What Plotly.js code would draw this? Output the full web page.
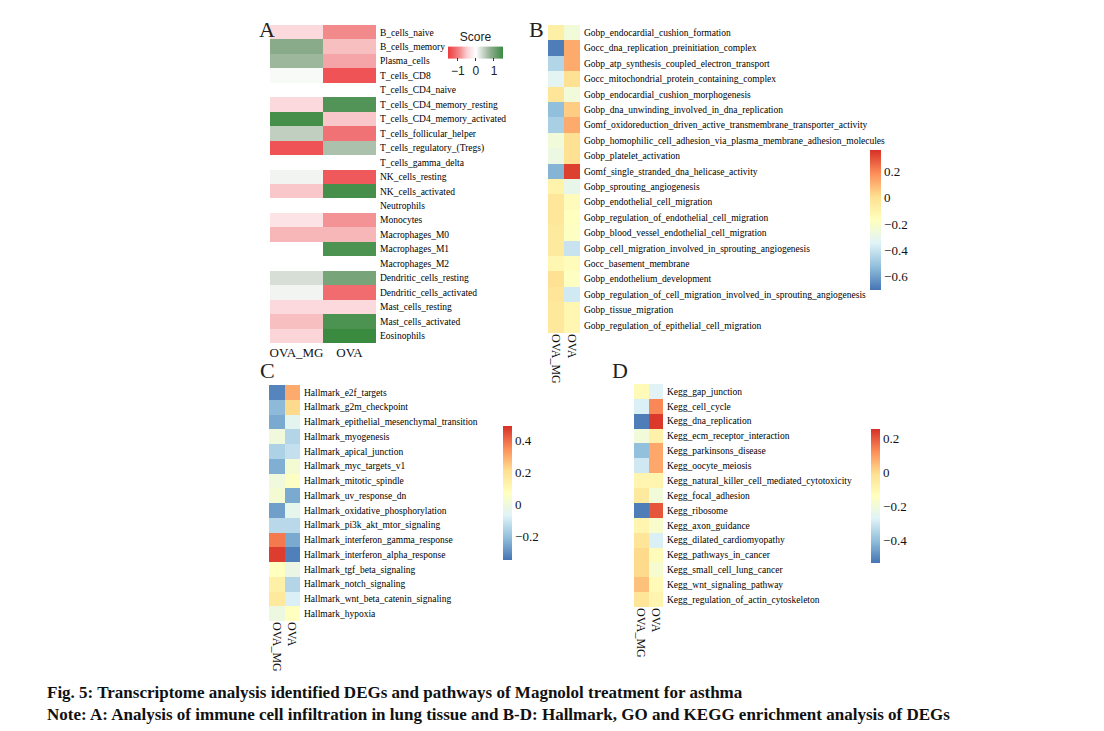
<!DOCTYPE html>
<html>
<head>
<meta charset="utf-8">
<script src="https://cdn.plot.ly/plotly-3.0.1.min.js"></script>
<style>html,body{margin:0;padding:0;background:#fff;}#chart{width:1104px;height:731px;}</style>
</head>
<body>
<div id="chart"></div>
<script>
// ---------- data ----------
const groups = ["OVA_MG", "OVA"];

const immuneCells = ["B_cells_naive","B_cells_memory","Plasma_cells","T_cells_CD8","T_cells_CD4_naive",
  "T_cells_CD4_memory_resting","T_cells_CD4_memory_activated","T_cells_follicular_helper",
  "T_cells_regulatory_(Tregs)","T_cells_gamma_delta","NK_cells_resting","NK_cells_activated",
  "Neutrophils","Monocytes","Macrophages_M0","Macrophages_M1","Macrophages_M2",
  "Dendritic_cells_resting","Dendritic_cells_activated","Mast_cells_resting","Mast_cells_activated","Eosinophils"];
const immuneMG  = [-0.4, 0.85, 0.7, 0.05, null, -0.4, 1.4, 0.45, -1.35, null, 0.1, -0.55, null, -0.3, -0.65, null, null, 0.3, 0.1, -0.4, -0.6, -0.45];
const immuneOVA = [-0.9, -0.6, -0.75, -1.35, null, 1.3, -0.55, -1.1, 0.6, null, -1.3, 1.4, null, -0.85, -0.65, 1.35, null, 1.0, -1.15, -0.4, 1.35, 1.5];

const goTerms = ["Gobp_endocardial_cushion_formation","Gocc_dna_replication_preinitiation_complex",
  "Gobp_atp_synthesis_coupled_electron_transport","Gocc_mitochondrial_protein_containing_complex",
  "Gobp_endocardial_cushion_morphogenesis","Gobp_dna_unwinding_involved_in_dna_replication",
  "Gomf_oxidoreduction_driven_active_transmembrane_transporter_activity",
  "Gobp_homophilic_cell_adhesion_via_plasma_membrane_adhesion_molecules","Gobp_platelet_activation",
  "Gomf_single_stranded_dna_helicase_activity","Gobp_sprouting_angiogenesis","Gobp_endothelial_cell_migration",
  "Gobp_regulation_of_endothelial_cell_migration","Gobp_blood_vessel_endothelial_cell_migration",
  "Gobp_cell_migration_involved_in_sprouting_angiogenesis","Gocc_basement_membrane","Gobp_endothelium_development",
  "Gobp_regulation_of_cell_migration_involved_in_sprouting_angiogenesis","Gobp_tissue_migration",
  "Gobp_regulation_of_epithelial_cell_migration"];
const goMG  = [-0.08, -0.68, -0.45, -0.33, -0.02, -0.52, -0.47, -0.25, -0.28, -0.55, -0.1, -0.03, -0.03, -0.05, -0.05, -0.12, 0.0, -0.02, -0.04, -0.04];
const goOVA = [-0.25, 0.12, 0.12, 0.0, -0.25, 0.05, 0.12, 0.0, 0.0, 0.33, -0.3, -0.15, -0.17, -0.18, -0.4, -0.15, -0.18, -0.38, -0.12, -0.12];

const hallmarks = ["Hallmark_e2f_targets","Hallmark_g2m_checkpoint","Hallmark_epithelial_mesenchymal_transition",
  "Hallmark_myogenesis","Hallmark_apical_junction","Hallmark_myc_targets_v1","Hallmark_mitotic_spindle",
  "Hallmark_uv_response_dn","Hallmark_oxidative_phosphorylation","Hallmark_pi3k_akt_mtor_signaling",
  "Hallmark_interferon_gamma_response","Hallmark_interferon_alpha_response","Hallmark_tgf_beta_signaling",
  "Hallmark_notch_signaling","Hallmark_wnt_beta_catenin_signaling","Hallmark_hypoxia"];
const hallMG  = [-0.32, -0.22, -0.25, 0.0, -0.16, -0.24, 0.0, 0.02, -0.27, -0.14, 0.38, 0.47, 0.07, 0.14, 0.17, -0.01];
const hallOVA = [0.3, 0.22, -0.05, -0.15, -0.12, 0.02, 0.06, -0.25, -0.04, -0.14, -0.25, -0.33, -0.02, -0.15, -0.08, 0.07];

const keggTerms = ["Kegg_gap_junction","Kegg_cell_cycle","Kegg_dna_replication","Kegg_ecm_receptor_interaction",
  "Kegg_parkinsons_disease","Kegg_oocyte_meiosis","Kegg_natural_killer_cell_mediated_cytotoxicity",
  "Kegg_focal_adhesion","Kegg_ribosome","Kegg_axon_guidance","Kegg_dilated_cardiomyopathy",
  "Kegg_pathways_in_cancer","Kegg_small_cell_lung_cancer","Kegg_wnt_signaling_pathway",
  "Kegg_regulation_of_actin_cytoskeleton"];
const keggMG  = [-0.12, -0.28, -0.52, -0.2, -0.4, -0.3, -0.1, -0.05, -0.52, -0.1, -0.03, 0.0, 0.0, 0.04, -0.03];
const keggOVA = [-0.27, 0.13, 0.24, -0.08, 0.08, 0.08, -0.1, -0.2, 0.2, -0.17, -0.28, -0.13, -0.18, -0.12, -0.1];

// ---------- styling ----------
const W = 1104, H = 731;
const fx = p => p / W;
const fy = p => 1 - p / H;
const serif = "Liberation Serif, Times New Roman, serif";
const sans = "Liberation Sans, Arial, sans-serif";

const rdylbu = ["#4575B4","#91BFDB","#E0F3F8","#FFFFBF","#FEE090","#FC8D59","#D73027"].map((c,i)=>[i/6,c]);
const scoreScale = [[0,"#ee3b3d"],[0.213,"#f28a8c"],[0.344,"#fad0d3"],[0.508,"#ffffff"],[0.623,"#cfd9cf"],[0.770,"#8fae8f"],[1,"#3a8a40"]];

function zOf(a, b){ return a.map((v,i)=>[v, b[i]]); }

function hm(idx, rows, a, b, zmin, zmax, scale, cb){
  return {
    type: "heatmap", x: groups, y: rows, z: zOf(a,b),
    xaxis: "x" + (idx===1?"":idx), yaxis: "y" + (idx===1?"":idx),
    zmin: zmin, zmax: zmax, colorscale: scale, hoverongaps: false,
    colorbar: cb, showscale: true
  };
}

const vcb = (left, top, bottom, thick) => ({
  x: fx(left), xanchor: "left", y: fy((top+bottom)/2), yanchor: "middle",
  len: bottom - top, lenmode: "pixels", thickness: thick, outlinewidth: 0,
  xpad: 0, ypad: 0,
  tickvals: [-0.6,-0.4,-0.2,0,0.2,0.4], ticktext: ["−0.6","−0.4","−0.2","0","0.2","0.4"],
  ticks: "", tickangle: 0, tickfont: {family: serif, size: 13, color: "#111"}, ticklabelpad: 3
});

const traces = [
  hm(1, immuneCells, immuneMG, immuneOVA, -1.55, 1.5, scoreScale, {
    orientation: "h", x: fx(475.5), xanchor: "center", y: fy(79), yanchor: "bottom",
    len: 55, lenmode: "pixels", thickness: 12, outlinewidth: 0, xpad: 0, ypad: 0,
    tickvals: [-1,0,1], ticktext: ["−1","0","1"], ticks: "outside", ticklen: 3, tickcolor: "#333",
    tickangle: 0,
    tickfont: {family: sans, size: 12, color: "#222"},
    title: {text: "Score", side: "top", font: {family: sans, size: 12, color: "#222"}}
  }),
  hm(2, goTerms, goMG, goOVA, -0.70, 0.36, rdylbu, vcb(870, 150, 290, 11)),
  hm(3, hallmarks, hallMG, hallOVA, -0.35, 0.49, rdylbu, vcb(503, 426, 560, 9)),
  hm(4, keggTerms, keggMG, keggOVA, -0.535, 0.253, rdylbu, vcb(871, 429, 563, 9))
];

function xax(l, r, anchor, angle, size){
  return {domain: [fx(l), fx(r)], anchor: anchor, showgrid: false, zeroline: false, showline: false,
    ticks: "", tickangle: angle, tickfont: {family: serif, size: size, color: "#111"}, fixedrange: true};
}
function yax(t, b, anchor){
  return {domain: [fy(b), fy(t)], anchor: anchor, side: "right", autorange: "reversed",
    showgrid: false, zeroline: false, showline: false, ticks: "", ticklabelstandoff: 3,
    tickfont: {family: serif, size: 9.5, color: "#000"}, fixedrange: true};
}

const layout = {
  width: W, height: H, margin: {l:0, r:0, t:0, b:0, autoexpand: false},
  paper_bgcolor: "#fff", plot_bgcolor: "#fff", showlegend: false,
  xaxis: xax(270, 376, "y", 0, 13),
  yaxis: yax(25, 343, "x"),
  xaxis2: xax(548, 580, "y2", 90, 12),
  yaxis2: yax(25, 333, "x2"),
  xaxis3: xax(269, 300, "y3", 90, 12),
  yaxis3: yax(385, 621, "x3"),
  xaxis4: xax(634, 663, "y4", 90, 12),
  yaxis4: yax(384, 607, "x4"),
  annotations: [
    {text: "A", x: fx(257), y: fy(15), xref: "paper", yref: "paper", showarrow: false, font: {family: serif, size: 22, color: "#222"}},
    {text: "B", x: fx(536), y: fy(15), xref: "paper", yref: "paper", showarrow: false, font: {family: serif, size: 22, color: "#222"}},
    {text: "C", x: fx(258), y: fy(370), xref: "paper", yref: "paper", showarrow: false, font: {family: serif, size: 22, color: "#222"}},
    {text: "D", x: fx(620), y: fy(370), xref: "paper", yref: "paper", showarrow: false, font: {family: serif, size: 22, color: "#222"}},
    {text: "<b>Fig. 5: Transcriptome analysis identified DEGs and pathways of Magnolol treatment for asthma</b>",
      x: fx(45), y: fy(692), xanchor: "left", yanchor: "middle", xref: "paper", yref: "paper", showarrow: false,
      font: {family: serif, size: 17, color: "#111"}},
    {text: "<b>Note: A: Analysis of immune cell infiltration in lung tissue and B-D: Hallmark, GO and KEGG enrichment analysis of DEGs</b>",
      x: fx(45), y: fy(714), xanchor: "left", yanchor: "middle", xref: "paper", yref: "paper", showarrow: false,
      font: {family: serif, size: 17, color: "#111"}}
  ]
};

Plotly.newPlot("chart", traces, layout, {displayModeBar: false, staticPlot: true});
</script>
</body>
</html>
